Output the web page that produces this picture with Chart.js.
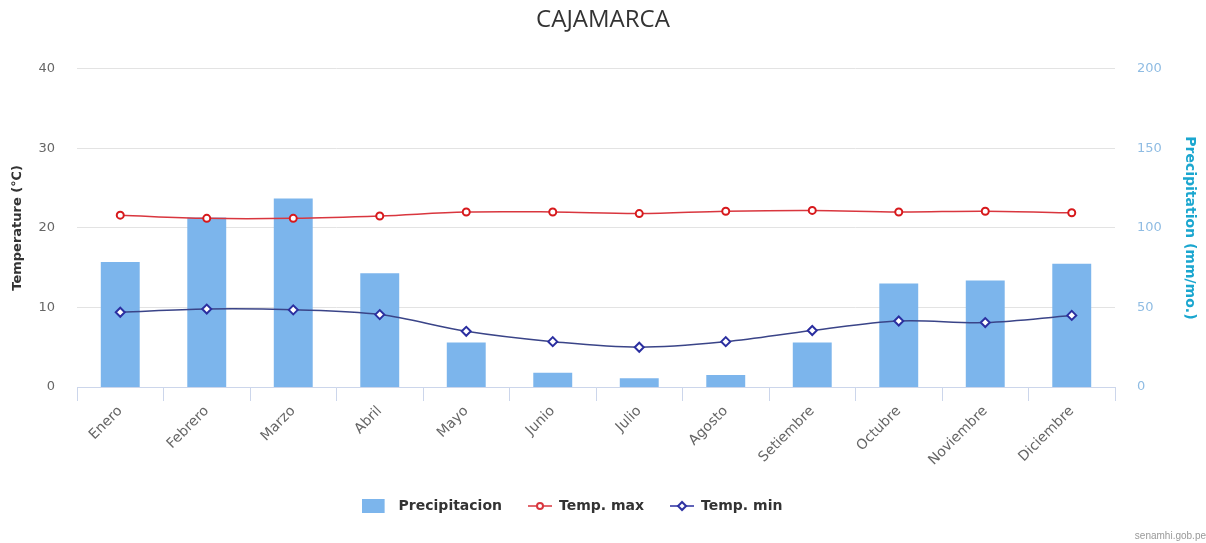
<!DOCTYPE html>
<html>
<head>
    <title>Cajamarca - Climograma</title>
    <style>
        body { margin: 0; background: #fff; }
        canvas { display: block; }
    </style>
    <script src="https://cdn.jsdelivr.net/npm/chart.js"></script>
</head>
<body>
    <canvas id="climaChart" width="1206" height="543"></canvas>

    <script>
        // Normales mensuales
        const meses = ['Enero', 'Febrero', 'Marzo', 'Abril', 'Mayo', 'Junio', 'Julio', 'Agosto', 'Setiembre', 'Octubre', 'Noviembre', 'Diciembre'];
        const precipitacion = [78.5, 106.5, 118.5, 71.5, 28, 9, 5.5, 7.5, 28, 65, 67, 77.5];
        const tempMax = [21.6, 21.2, 21.2, 21.5, 22.0, 22.0, 21.8, 22.1, 22.2, 22.0, 22.1, 21.9];
        const tempMin = [9.4, 9.8, 9.7, 9.1, 7.0, 5.7, 5.0, 5.7, 7.1, 8.3, 8.1, 9.0];
        const tempTicks = [0, 10, 20, 30, 40];
        const precTicks = [0, 50, 100, 150, 200];

        const colorBarra = '#7cb5ec';
        const colorMax = '#d9363e';
        const colorMin = '#2b2fa0';

        // little legend symbols: a block for the bars, line + marker for the series
        function iconoBarra() {
            const c = document.createElement('canvas');
            c.width = 36; c.height = 14;
            const ctx = c.getContext('2d');
            ctx.fillStyle = colorBarra;
            ctx.fillRect(0, 0, 23, 14);
            return c;
        }
        function iconoLinea(color, rombo) {
            const c = document.createElement('canvas');
            c.width = 24; c.height = 12;
            const ctx = c.getContext('2d');
            ctx.strokeStyle = color;
            ctx.lineWidth = 1.5;
            ctx.beginPath();
            ctx.moveTo(0, 6); ctx.lineTo(24, 6);
            ctx.stroke();
            ctx.fillStyle = '#fff';
            ctx.lineWidth = 2;
            ctx.beginPath();
            if (rombo) {
                ctx.moveTo(12, 2); ctx.lineTo(16, 6); ctx.lineTo(12, 10); ctx.lineTo(8, 6); ctx.closePath();
            } else {
                ctx.arc(12, 6, 3, 0, Math.PI * 2);
            }
            ctx.fill();
            ctx.stroke();
            return c;
        }
        const iconos = [iconoBarra(), iconoLinea(colorMax, false), iconoLinea(colorMin, true)];

        const fuente = "'DejaVu Sans', sans-serif";

        // nudge the legend row a bit to the left of the canvas centre
        const correrLeyenda = {
            id: 'correrLeyenda',
            afterLayout(chart) {
                const lg = chart.legend;
                if (lg) { lg.left -= 28; lg.right -= 28; }
            }
        };

        new Chart(document.getElementById('climaChart'), {
            type: 'bar',
            data: {
                labels: meses,
                datasets: [{
                    label: 'Precipitacion',
                    data: precipitacion,
                    yAxisID: 'yPrec',
                    backgroundColor: colorBarra,
                    barPercentage: 0.45,
                    categoryPercentage: 1,
                    order: 2
                }, {
                    type: 'line',
                    label: 'Temp. max',
                    data: tempMax,
                    yAxisID: 'yTemp',
                    borderColor: colorMax,
                    borderWidth: 1.5,
                    tension: 0.35,
                    pointStyle: 'circle',
                    pointRadius: 3.5,
                    pointBorderWidth: 2,
                    pointBorderColor: '#d7191c',
                    pointBackgroundColor: '#fff',
                    order: 1
                }, {
                    type: 'line',
                    label: 'Temp. min',
                    data: tempMin,
                    yAxisID: 'yTemp',
                    borderColor: '#3a4488',
                    borderWidth: 1.5,
                    tension: 0.35,
                    pointStyle: 'rectRot',
                    pointRadius: 4.5,
                    pointBorderWidth: 2,
                    pointBorderColor: colorMin,
                    pointBackgroundColor: '#fff',
                    order: 0
                }]
            },
            plugins: [correrLeyenda],
            options: {
                responsive: false,
                animation: false,
                layout: { padding: 0 },
                scales: {
                    x: {
                        offset: true,
                        grid: {
                            offset: true,
                            drawOnChartArea: false,
                            drawTicks: true,
                            tickLength: 14,
                            color: '#ccd6eb'
                        },
                        border: { display: true, color: '#ccd6eb' },
                        ticks: {
                            maxRotation: 45,
                            minRotation: 45,
                            padding: 2,
                            color: '#666',
                            font: { family: fuente, size: 14 }
                        },
                        afterFit(scale) { scale.height = 86; }
                    },
                    yTemp: {
                        position: 'left',
                        min: 0,
                        max: 40,
                        afterBuildTicks(scale) { scale.ticks = tempTicks.map(v => ({ value: v })); },
                        grid: { color: '#e3e3e3', drawTicks: false },
                        border: { display: false },
                        ticks: { padding: 22, color: '#666', font: { family: fuente, size: 13 } },
                        title: {
                            display: true,
                            text: 'Temperature (℃)',
                            color: '#333',
                            font: { family: fuente, size: 13, weight: 'bold' },
                            padding: { top: 10, bottom: 0 }
                        },
                        afterFit(scale) { scale.width = 77; }
                    },
                    yPrec: {
                        position: 'right',
                        min: 0,
                        max: 200,
                        afterBuildTicks(scale) { scale.ticks = precTicks.map(v => ({ value: v })); },
                        grid: { display: false, drawTicks: false },
                        border: { display: false },
                        ticks: { padding: 22, color: '#8fbce3', font: { family: fuente, size: 13 } },
                        title: {
                            display: true,
                            text: 'Precipitation (mm/mo.)',
                            color: '#1aa6cf',
                            font: { family: fuente, size: 14, weight: 'bold' },
                            padding: { top: 8, bottom: 0 }
                        },
                        afterFit(scale) { scale.width = 91; }
                    }
                },
                plugins: {
                    title: {
                        display: true,
                        text: 'CAJAMARCA',
                        color: '#333',
                        font: { family: "'Open Sans', sans-serif", size: 24, weight: 'normal' },
                        padding: { top: 6, bottom: 34 }
                    },
                    subtitle: {
                        display: true,
                        text: 'senamhi.gob.pe',
                        position: 'bottom',
                        align: 'end',
                        color: '#999',
                        font: { family: "'Liberation Sans', sans-serif", size: 10 },
                        padding: { top: 7, bottom: 1 }
                    },
                    legend: {
                        position: 'bottom',
                        labels: {
                            usePointStyle: true,
                            pointStyleWidth: 24,
                            padding: 26,
                            color: '#333',
                            font: { family: fuente, size: 14, weight: 'bold' },
                            generateLabels(chart) {
                                const items = Chart.defaults.plugins.legend.labels.generateLabels(chart);
                                items.sort((a, b) => a.datasetIndex - b.datasetIndex);
                                items.forEach(it => {
                                    it.pointStyle = iconos[it.datasetIndex];
                                    it.fontColor = '#333';
                                });
                                return items;
                            }
                        }
                    },
                    tooltip: { enabled: false }
                }
            }
        });
    </script>
</body>
</html>
